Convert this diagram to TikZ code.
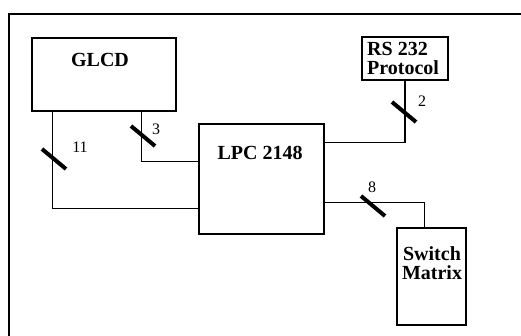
\documentclass[tikz,border=0pt]{standalone}
\usepackage{fontspec}
\setmainfont{Liberation Serif}
\usetikzlibrary{calc}

\begin{document}
\begin{tikzpicture}[
  x=1pt, y=-1pt,
  blk/.style={draw, line width=1.4pt, inner sep=0pt},
  title/.style={font=\fontsize{20}{19}\selectfont\bfseries, align=center, inner sep=0pt},
  wire/.style={line width=1.4pt},
  busmark/.style={line width=4pt},
  buswidth/.style={font=\fontsize{16}{16}\selectfont, inner sep=0pt}
]
\useasboundingbox (0,0) rectangle (521,336);
\draw[line width=2pt] (9,340) -- (9,14) -- (525,14);

\node[blk, minimum width=144pt, minimum height=73pt] (glcd) at (104,74.5) {};
\node[blk, minimum width=125pt, minimum height=110pt] (lpc) at (261.5,179) {};
\node[blk, minimum width=86pt, minimum height=43pt] (rs) at (405,58.5) {};
\node[blk, minimum width=69pt, minimum height=97pt] (sw) at (431.5,276.5) {};

\node[title] (glcdtxt) at (100,60) {GLCD};
\node[title] (lpctxt) at (260,153) {LPC 2148};
\node[title, align=left, anchor=west] (rstxt) at (367,58) {RS 232\\Protocol};
\node[title] (swtxt) at (432,263) {Switch\\Matrix};

\draw[wire] ([xshift=110pt]glcd.south west) |- ([yshift=-38pt]lpc.north west);
\draw[wire] ([xshift=21pt]glcd.south west) |- ([yshift=-85pt]lpc.north west);
\draw[wire] (rs.south) |- ([yshift=-19pt]lpc.north east);
\draw[wire] ([yshift=-79pt]lpc.north east) -| ([xshift=28pt]sw.north west);

% bus width marks
\coordinate (b3) at (143,136);
\coordinate (b11) at (54,159);
\coordinate (b2) at (404,112);
\coordinate (b8) at (373,206);
\foreach \b in {b3,b11,b2,b8}
  \draw[busmark] ($(\b)+(-12,-10)$) -- ($(\b)+(12,10)$);

\node[buswidth] (n3) at (156,129) {3};
\node[buswidth] (n11) at (80,147) {11};
\node[buswidth] (n2) at (422,101) {2};
\node[buswidth] (n8) at (372,187) {8};
\end{tikzpicture}
\end{document}
